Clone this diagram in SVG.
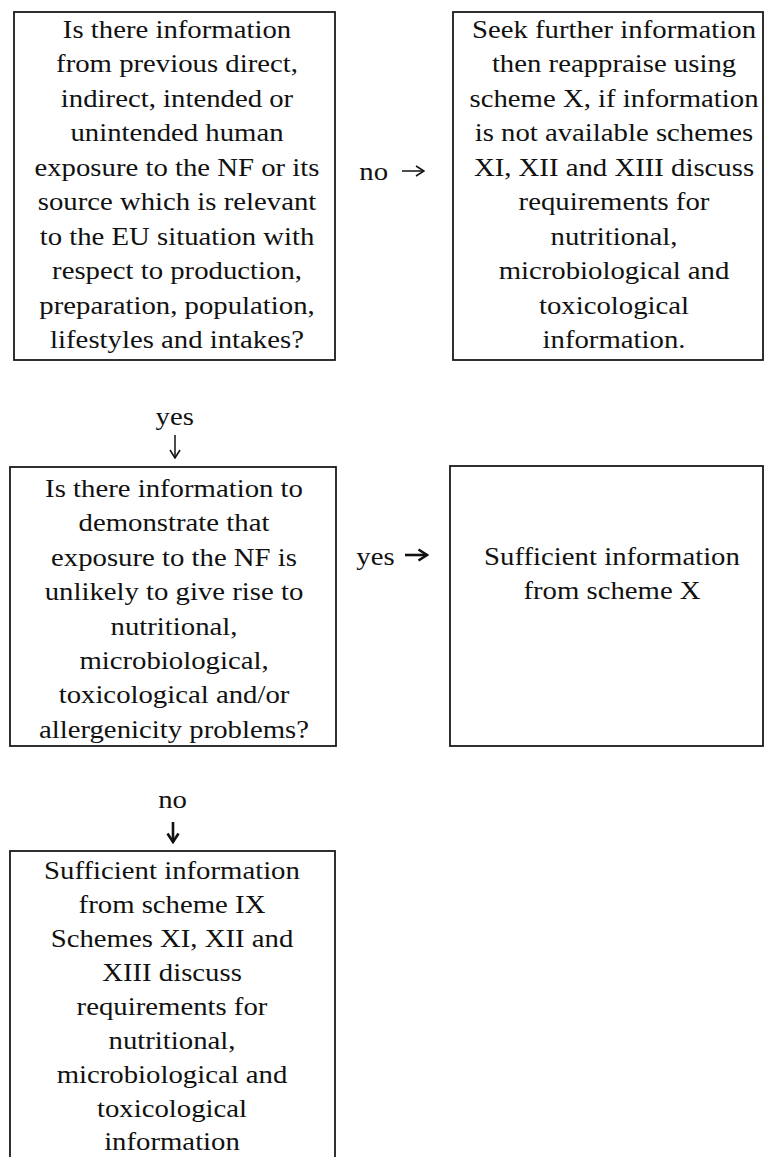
<svg xmlns="http://www.w3.org/2000/svg" width="765" height="1157" viewBox="0 0 765 1157">
<defs>
<style>
.box{fill:#fff;stroke:#1a1a1a;stroke-width:1.8}
.t text{font-family:"Liberation Serif","Times New Roman",serif;font-size:25px;fill:#111;text-anchor:middle}
.c{stroke:#111;fill:none;stroke-width:1.5}
.cb{stroke:#111;fill:none;stroke-width:2.6}
</style>
<marker id="ah" markerUnits="userSpaceOnUse" viewBox="0 0 10 12" refX="9" refY="6" markerWidth="10" markerHeight="12" orient="auto"><path d="M1,1 L9,6 L1,11" fill="none" stroke="#111" stroke-width="1.5"/></marker>
<marker id="ahb" markerUnits="userSpaceOnUse" viewBox="0 0 12 14" refX="10" refY="7" markerWidth="12" markerHeight="14" orient="auto"><path d="M1.5,1.5 L10,7 L1.5,12.5" fill="none" stroke="#111" stroke-width="2.6"/></marker>
</defs>
<rect width="765" height="1157" fill="#fff"/>

<g id="n1">
<rect class="box" x="14" y="12" width="321" height="348"/>
<g class="t" transform="matrix(1.15,0,0,1,177,0)">
<text x="0" y="38">Is there information</text>
<text x="0" y="72.5">from previous direct,</text>
<text x="0" y="107">indirect, intended or</text>
<text x="0" y="141.5">unintended human</text>
<text x="0" y="176">exposure to the NF or its</text>
<text x="0" y="210.5">source which is relevant</text>
<text x="0" y="245">to the EU situation with</text>
<text x="0" y="279.5">respect to production,</text>
<text x="0" y="314">preparation, population,</text>
<text x="0" y="348.5">lifestyles and intakes?</text>
</g>
</g>

<g id="n2">
<rect class="box" x="453" y="12" width="310" height="348"/>
<g class="t" transform="matrix(1.15,0,0,1,614,0)">
<text x="0" y="38">Seek further information</text>
<text x="0" y="72.5">then reappraise using</text>
<text x="0" y="107">scheme X, if information</text>
<text x="0" y="141.5">is not available schemes</text>
<text x="0" y="176">XI, XII and XIII discuss</text>
<text x="0" y="210.5">requirements for</text>
<text x="0" y="245">nutritional,</text>
<text x="0" y="279.5">microbiological and</text>
<text x="0" y="314">toxicological</text>
<text x="0" y="348.5">information.</text>
</g>
</g>

<g id="n3">
<rect class="box" x="10" y="467" width="326" height="279"/>
<g class="t" transform="matrix(1.15,0,0,1,174,0)">
<text x="0" y="497">Is there information to</text>
<text x="0" y="531.4">demonstrate that</text>
<text x="0" y="565.8">exposure to the NF is</text>
<text x="0" y="600.2">unlikely to give rise to</text>
<text x="0" y="634.6">nutritional,</text>
<text x="0" y="669">microbiological,</text>
<text x="0" y="703.4">toxicological and/or</text>
<text x="0" y="737.8">allergenicity problems?</text>
</g>
</g>

<g id="n4">
<rect class="box" x="450" y="466" width="313" height="280"/>
<g class="t" transform="matrix(1.15,0,0,1,612,0)">
<text x="0" y="565">Sufficient information</text>
<text x="0" y="599">from scheme X</text>
</g>
</g>

<g id="n5">
<rect class="box" x="10" y="851" width="325" height="320"/>
<g class="t" transform="matrix(1.15,0,0,1,172,0)">
<text x="0" y="879">Sufficient information</text>
<text x="0" y="913">from scheme IX</text>
<text x="0" y="947">Schemes XI, XII and</text>
<text x="0" y="981">XIII discuss</text>
<text x="0" y="1015">requirements for</text>
<text x="0" y="1049">nutritional,</text>
<text x="0" y="1083">microbiological and</text>
<text x="0" y="1117">toxicological</text>
<text x="0" y="1150">information</text>
</g>
</g>

<g id="connectors">
<g class="t" transform="matrix(1.15,0,0,1,0,0)">
<text x="325" y="180">no</text>
<text x="152" y="425">yes</text>
<text x="326.5" y="565">yes</text>
<text x="150" y="808">no</text>
</g>
<path class="c" d="M402,171 L424,171" marker-end="url(#ah)"/>
<path class="c" d="M175,435 L175,458" marker-end="url(#ah)"/>
<path class="cb" d="M405,555 L427,555" marker-end="url(#ahb)"/>
<path class="cb" d="M173,822 L173,842" marker-end="url(#ahb)"/>
</g>
</svg>
